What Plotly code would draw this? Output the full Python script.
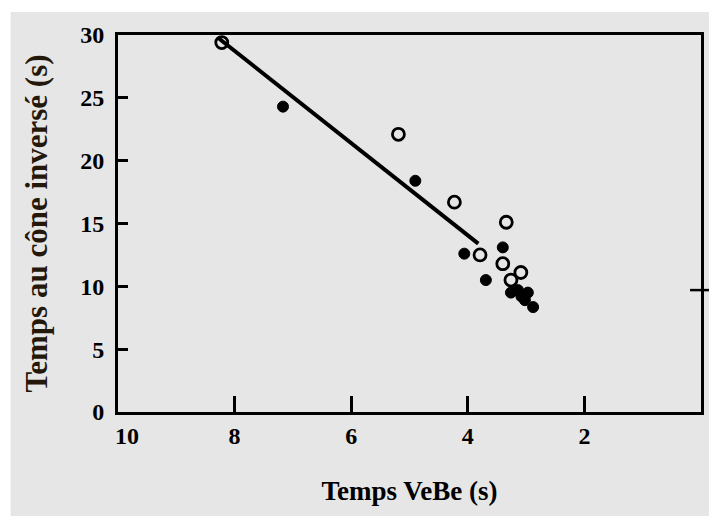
import plotly.graph_objects as go

# Data
open_x = [8.22, 5.19, 4.23, 3.34, 3.79, 3.40, 3.09, 3.26]
open_y = [29.4, 22.1, 16.7, 15.1, 12.5, 11.8, 11.1, 10.5]
filled_x = [7.17, 4.90, 3.40, 4.06, 3.69, 3.14, 2.97, 3.02, 2.88, 3.26, 3.08]
filled_y = [24.3, 18.4, 13.1, 12.6, 10.5, 9.7, 9.5, 8.9, 8.35, 9.5, 9.2]
fit_x = [8.29, 3.82]
fit_y = [29.8, 13.4]

x_ticks = [10, 8, 6, 4, 2]
x_ticktext = ["\u00a0\u00a0\u00a010", "8", "6", "4", "2"]
y_ticks = [0, 5, 10, 15, 20, 25, 30]

L, R, T, B = 118, 8, 35, 104
W, H = 712, 516
pw, ph = W - L - R, H - T - B

fig = go.Figure()
fig.add_trace(go.Scatter(x=fit_x, y=fit_y, mode="lines",
                         line=dict(color="black", width=4), showlegend=False))
fig.add_trace(go.Scatter(x=filled_x, y=filled_y, mode="markers",
                         marker=dict(symbol="circle", size=11, color="black",
                                     line=dict(color="black", width=1)),
                         showlegend=False))
fig.add_trace(go.Scatter(x=open_x, y=open_y, mode="markers",
                         marker=dict(symbol="circle-open", size=12, color="black",
                                     line=dict(color="black", width=2.8)),
                         showlegend=False))

serif = "Liberation Serif"
fig.update_layout(
    width=W, height=H,
    margin=dict(l=L, r=R, t=T, b=B, pad=0),
    paper_bgcolor="white",
    plot_bgcolor="rgba(0,0,0,0)",
    font=dict(family=serif, color="black"),
    shapes=[
        dict(type="rect", xref="paper", yref="paper",
             x0=(10 - L) / pw, x1=(W - L) / pw,
             y0=(T + ph - H) / ph, y1=(T + ph - 12) / ph,
             fillcolor="#e6e6e6", line=dict(width=0), layer="below"),
        dict(type="line", xref="paper", yref="y",
             x0=(693 - L) / pw, x1=(W - L) / pw, y0=9.7, y1=9.7,
             line=dict(color="black", width=2.5)),
    ],
    xaxis=dict(
        range=[10, 0], tickvals=x_ticks, ticktext=x_ticktext,
        ticks="inside", ticklen=16, tickwidth=2.5, tickcolor="black",
        showline=True, linewidth=3, linecolor="black", mirror=True,
        showgrid=False, zeroline=False,
        tickfont=dict(family=serif, size=24, color="black", weight="bold"),
        title=dict(text="Temps VeBe (s)", standoff=34,
                   font=dict(family=serif, size=27, color="black", weight="bold")),
    ),
    yaxis=dict(
        range=[0, 30], tickvals=y_ticks,
        ticks="inside", ticklen=10, tickwidth=2.5, tickcolor="black",
        showline=True, linewidth=3, linecolor="black", mirror=True,
        showgrid=False, zeroline=False, ticklabelstandoff=6,
        tickfont=dict(family=serif, size=24, color="black", weight="bold"),
        title=dict(text="Temps au cône inversé (s)", standoff=24,
                   font=dict(family=serif, size=31, color="#24180a", weight="bold")),
    ),
)

fig.write_html("out.html")
